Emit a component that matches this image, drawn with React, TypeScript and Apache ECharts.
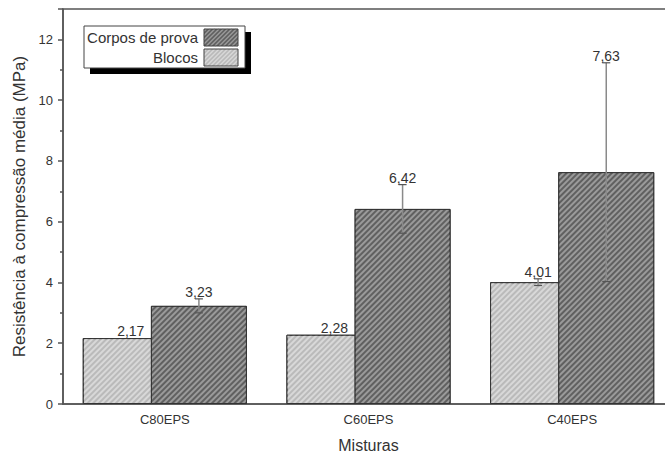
import React, { useEffect, useRef } from "react";
import * as echarts from "echarts";

const categories = ["C80EPS", "C60EPS", "C40EPS"];
const blocosValues = [2.17, 2.28, 4.01];
const blocosErrors = [0, 0, 0.11];
const corposValues = [3.23, 6.42, 7.63];
const corposErrors = [0.23, 0.8, 3.6];
const yTicks = [0, 2, 4, 6, 8, 10, 12];

const FONT = "'Liberation Sans', Arial, sans-serif";
const TEXT = "#333";
const AXIS = "#555";
const BAR_W = 96;
const BAR_GAP = -0.29;
const BLOCOS_COLOR = "#bababa";
const BLOCOS_HATCH = "#d8d8d8";
const CORPOS_COLOR = "#606060";
const CORPOS_HATCH = "#9a9a9a";

function fmt(v: number) {
  return v.toFixed(2).replace(".", ",");
}

function hatch(x0: number, y0: number, w: number, h: number, period: number, color: string) {
  const out: any[] = [];
  for (let c = x0 + y0 + period / 2; c < x0 + w + y0 + h; c += period) {
    const sx = Math.max(x0, c - (y0 + h));
    const ex = Math.min(x0 + w, c - y0);
    if (ex > sx) {
      out.push({
        type: "line",
        z: 101,
        shape: { x1: sx, y1: c - sx, x2: ex, y2: c - ex },
        style: { stroke: color, lineWidth: 1.4 },
      });
    }
  }
  return out;
}

function errorSeries(name: string, values: number[], errors: number[], sign: number) {
  const off = (sign * BAR_W * (1 + BAR_GAP)) / 2;
  return {
    type: "custom",
    name,
    xAxisIndex: 0,
    yAxisIndex: 0,
    z: 5,
    data: values.map((v, i) => [i, v, errors[i]]),
    renderItem: (params: any, api: any) => {
      const idx = api.value(0);
      const v = api.value(1);
      const e = api.value(2);
      const top = api.coord([idx, v + e]);
      const bot = api.coord([idx, v - e]);
      const x = top[0] + off;
      const children: any[] = [];
      if (e > 0) {
        children.push({
          type: "line",
          shape: { x1: x, y1: top[1], x2: x, y2: bot[1] },
          style: { stroke: "#8a8a8a", lineWidth: 1.5 },
        });
        children.push({
          type: "line",
          shape: { x1: x - 4, y1: top[1], x2: x + 4, y2: top[1] },
          style: { stroke: "#555", lineWidth: 1.2 },
        });
        children.push({
          type: "line",
          shape: { x1: x - 4, y1: bot[1], x2: x + 4, y2: bot[1] },
          style: { stroke: "#555", lineWidth: 1.2 },
        });
      }
      children.push({
        type: "text",
        style: {
          text: fmt(v),
          x,
          y: top[1],
          align: "center",
          verticalAlign: "bottom",
          fontSize: 14,
          fontFamily: FONT,
          fill: TEXT,
        },
      });
      return { type: "group", children };
    },
  };
}

export default function App() {
  const ref = useRef<HTMLDivElement>(null);
  useEffect(() => {
    if (!ref.current) return;
    const chart = echarts.init(ref.current, null, { renderer: "svg" });
    const legend: any[] = [
      { type: "rect", z: 100, shape: { x: 90, y: 32, width: 161, height: 42 }, style: { fill: "#000" } },
      { type: "rect", z: 100, shape: { x: 84, y: 26, width: 161, height: 42 }, style: { fill: "#fff", stroke: "#444", lineWidth: 1 } },
      { type: "text", z: 101, style: { text: "Corpos de prova", x: 198, y: 37.5, align: "right", verticalAlign: "middle", fontSize: 15, fontFamily: FONT, fill: TEXT } },
      { type: "text", z: 101, style: { text: "Blocos", x: 198, y: 57.5, align: "right", verticalAlign: "middle", fontSize: 15, fontFamily: FONT, fill: TEXT } },
      { type: "rect", z: 101, shape: { x: 204, y: 29, width: 34, height: 17 }, style: { fill: CORPOS_COLOR } },
      ...hatch(204, 29, 34, 17, 4.3, CORPOS_HATCH),
      { type: "rect", z: 102, shape: { x: 204, y: 29, width: 34, height: 17 }, style: { fill: "none", stroke: "#444", lineWidth: 1 } },
      { type: "rect", z: 101, shape: { x: 204, y: 49, width: 34, height: 17 }, style: { fill: BLOCOS_COLOR } },
      ...hatch(204, 49, 34, 17, 4.3, BLOCOS_HATCH),
      { type: "rect", z: 102, shape: { x: 204, y: 49, width: 34, height: 17 }, style: { fill: "none", stroke: "#444", lineWidth: 1 } },
    ];
    const decal = (color: string) => ({
      symbol: "rect",
      symbolSize: 1,
      rotation: -Math.PI / 4,
      color,
      dashArrayX: [1, 0],
      dashArrayY: [1.5, 1.5],
    });
    chart.setOption({
      animation: false,
      backgroundColor: "#fff",
      textStyle: { fontFamily: FONT },
      grid: {
        left: 63,
        top: 9,
        bottom: 51,
        right: 1,
        outerBoundsMode: "none",
        containLabel: false,
        show: true,
        borderColor: AXIS,
        borderWidth: 1.5,
        backgroundColor: "transparent",
      },
      xAxis: [
        {
          type: "category",
          data: categories,
          axisLine: { lineStyle: { color: AXIS, width: 1.5 } },
          axisTick: { alignWithLabel: true, length: 5, lineStyle: { color: AXIS, width: 1.5 } },
          axisLabel: { fontSize: 13, color: TEXT, margin: 9, fontFamily: FONT },
          name: "Misturas",
          nameLocation: "middle",
          nameGap: 33,
          nameTextStyle: { fontSize: 16, color: TEXT, fontFamily: FONT },
        },
        {
          type: "category",
          data: categories,
          position: "bottom",
          axisLine: { show: false },
          axisTick: { alignWithLabel: false, length: 3, lineStyle: { color: AXIS, width: 1.5 } },
          axisLabel: { show: false },
        },
      ],
      yAxis: {
        type: "value",
        min: 0,
        max: 13,
        interval: 2,
        splitLine: { show: false },
        axisLine: { show: true, lineStyle: { color: AXIS, width: 1.5 } },
        axisTick: { show: true, length: 5, lineStyle: { color: AXIS, width: 1.5 } },
        minorTick: { show: true, splitNumber: 2, length: 3, lineStyle: { color: AXIS, width: 1.5 } },
        axisLabel: {
          fontSize: 13,
          color: TEXT,
          margin: 10,
          fontFamily: FONT,
          formatter: (v: number) => (yTicks.includes(v) ? String(v) : ""),
        },
        name: "Resistência à compressão média (MPa)",
        nameLocation: "middle",
        nameGap: 32,
        nameTextStyle: { fontSize: 17, color: TEXT, fontFamily: FONT },
      },
      series: [
        {
          type: "bar",
          name: "Blocos",
          data: blocosValues,
          barWidth: BAR_W,
          barGap: `${BAR_GAP * 100}%`,
          itemStyle: { color: BLOCOS_COLOR, borderColor: "#333", borderWidth: 1, decal: decal(BLOCOS_HATCH) },
        },
        {
          type: "bar",
          name: "Corpos de prova",
          data: corposValues,
          barWidth: BAR_W,
          barGap: `${BAR_GAP * 100}%`,
          itemStyle: { color: CORPOS_COLOR, borderColor: "#333", borderWidth: 1, decal: decal(CORPOS_HATCH) },
        },
        errorSeries("errBlocos", blocosValues, blocosErrors, -1),
        errorSeries("errCorpos", corposValues, corposErrors, 1),
      ],
      graphic: legend,
    });
    return () => chart.dispose();
  }, []);
  return <div ref={ref} style={{ width: 675, height: 455, position: "fixed", left: 0, top: 0 }} />;
}
